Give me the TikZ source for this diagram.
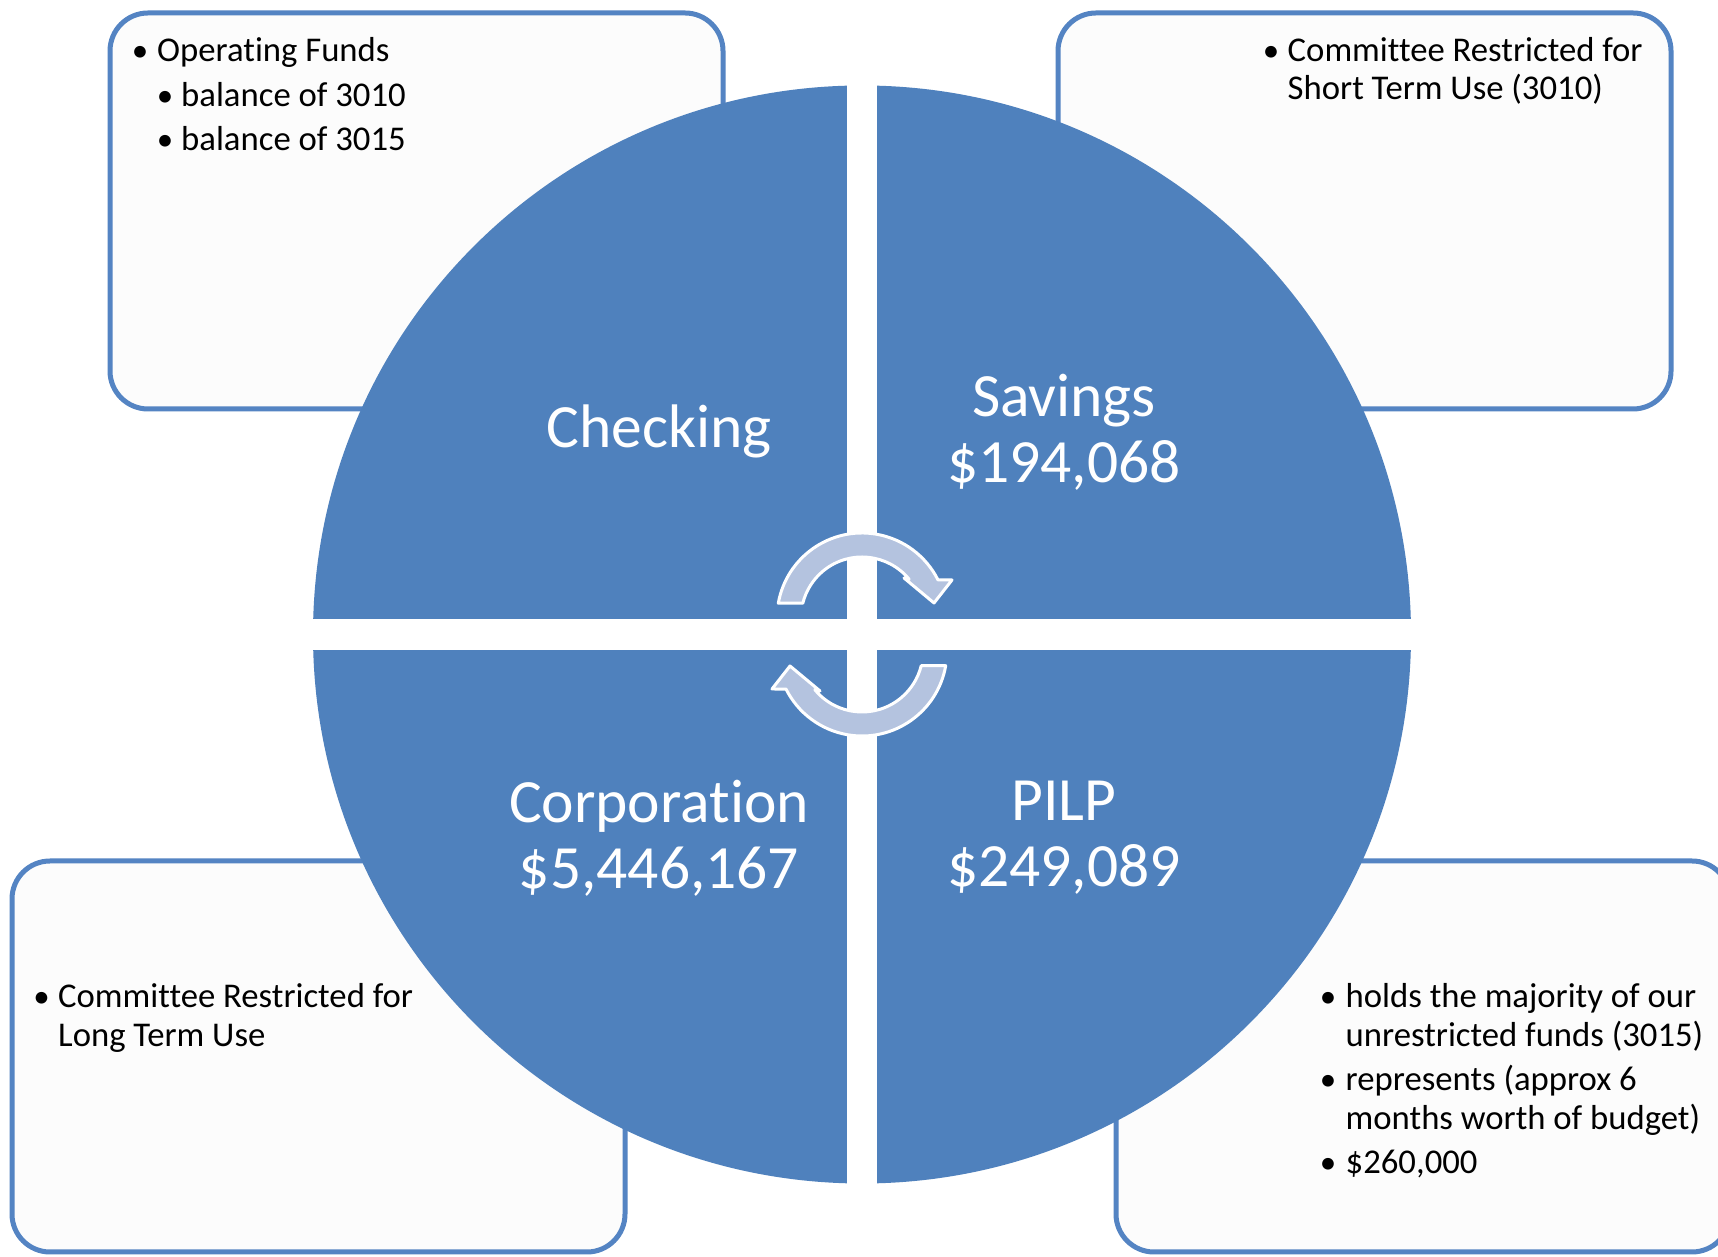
\documentclass[tikz,border=0pt]{standalone}
\usepackage{fontspec}
\setmainfont{Carlito}[Ligatures=NoCommon]
\definecolor{qblue}{RGB}{79,129,189}
\definecolor{boxblue}{RGB}{84,132,195}
\definecolor{boxfill}{RGB}{252,252,252}
\definecolor{arrowfill}{RGB}{180,195,223}
\tikzset{
  infobox/.style={draw=boxblue, line width=5, fill=boxfill, rounded corners=38},
  quad/.style={text=white, font=\fontsize{61.5}{66}\selectfont, align=center, inner sep=0},
  btxt/.style={anchor=base west, inner sep=0, font=\fontsize{34.7}{38}\selectfont},
  bul/.style={anchor=base, inner sep=0, font=\fontsize{33}{38}\selectfont},
  cyc/.style={fill=arrowfill, draw=white, line width=3, line join=round},
}
\begin{document}
\begin{tikzpicture}[x=1pt,y=1pt]
\path[use as bounding box, clip] (0,0) rectangle (1718,1257);
\fill[white] (0,0) rectangle (1718,1257);
% boxes
\draw[infobox] (110,848) rectangle (723,1244);
\draw[infobox] (1058,848) rectangle (1671,1244);
\draw[infobox] (12,5) rectangle (625,396);
\draw[infobox] (1116,5) rectangle (1730,396);
% circle
\fill[qblue] (862,622.5) circle[radius=549];
\fill[white] (847,60) rectangle (877,1190);
\fill[white] (300,607) rectangle (1425,638);
% cycle arrows
\path[cyc, shift={(862,639)}] (170:85) arc[start angle=170, end angle=26.6, radius=85]
  -- (90,38) -- (72,15) -- (42,40) -- (39.3:61)
  arc[start angle=39.3, end angle=166, radius=61] -- cycle;
\begin{scope}[rotate around={180:(862,622.5)}]
\path[cyc, shift={(862,639)}] (170:85) arc[start angle=170, end angle=26.6, radius=85]
  -- (90,38) -- (72,15) -- (42,40) -- (39.3:61)
  arc[start angle=39.3, end angle=166, radius=61] -- cycle;
\end{scope}
% quadrant labels
\node[quad] (checking) at (659,826) {Checking};
\node[quad] (savings) at (1064,825) {Savings\\\$194,068};
\node[quad] (corp) at (659,419) {Corporation\\\$5,446,167};
\node[quad] (pilp) at (1064,419) {PILP\\\$249,089};
% top-left text
\node[bul] (tlb1) at (140,1195) {•};
\node[btxt] (tlt1) at (157,1195) {Operating Funds};
\node[bul] (tlb2) at (165,1150) {•};
\node[btxt] (tlt2) at (181,1150) {balance of 3010};
\node[bul] (tlb3) at (165,1106) {•};
\node[btxt] (tlt3) at (181,1106) {balance of 3015};
% top-right text
\node[bul] (trb1) at (1271,1195) {•};
\node[btxt] (trt1) at (1287.5,1195) {Committee Restricted for};
\node[btxt] (trt2) at (1287.5,1157) {Short Term Use (3010)};
% bottom-left text
\node[bul] (blb1) at (41.6,249) {•};
\node[btxt] (blt1) at (58,249) {Committee Restricted for};
\node[btxt] (blt2) at (58,210) {Long Term Use};
% bottom-right text
\node[bul] (brb1) at (1328,249) {•};
\node[btxt] (brt1) at (1345.5,249) {holds the majority of our};
\node[btxt] (brt2) at (1345.5,210) {unrestricted funds (3015)};
\node[bul] (brb2) at (1328,166) {•};
\node[btxt] (brt3) at (1345.5,166) {represents (approx 6};
\node[btxt] (brt4) at (1345.5,127) {months worth of budget)};
\node[bul] (brb3) at (1328,83) {•};
\node[btxt] (brt5) at (1345.5,83) {\$260,000};
\end{tikzpicture}
\end{document}
